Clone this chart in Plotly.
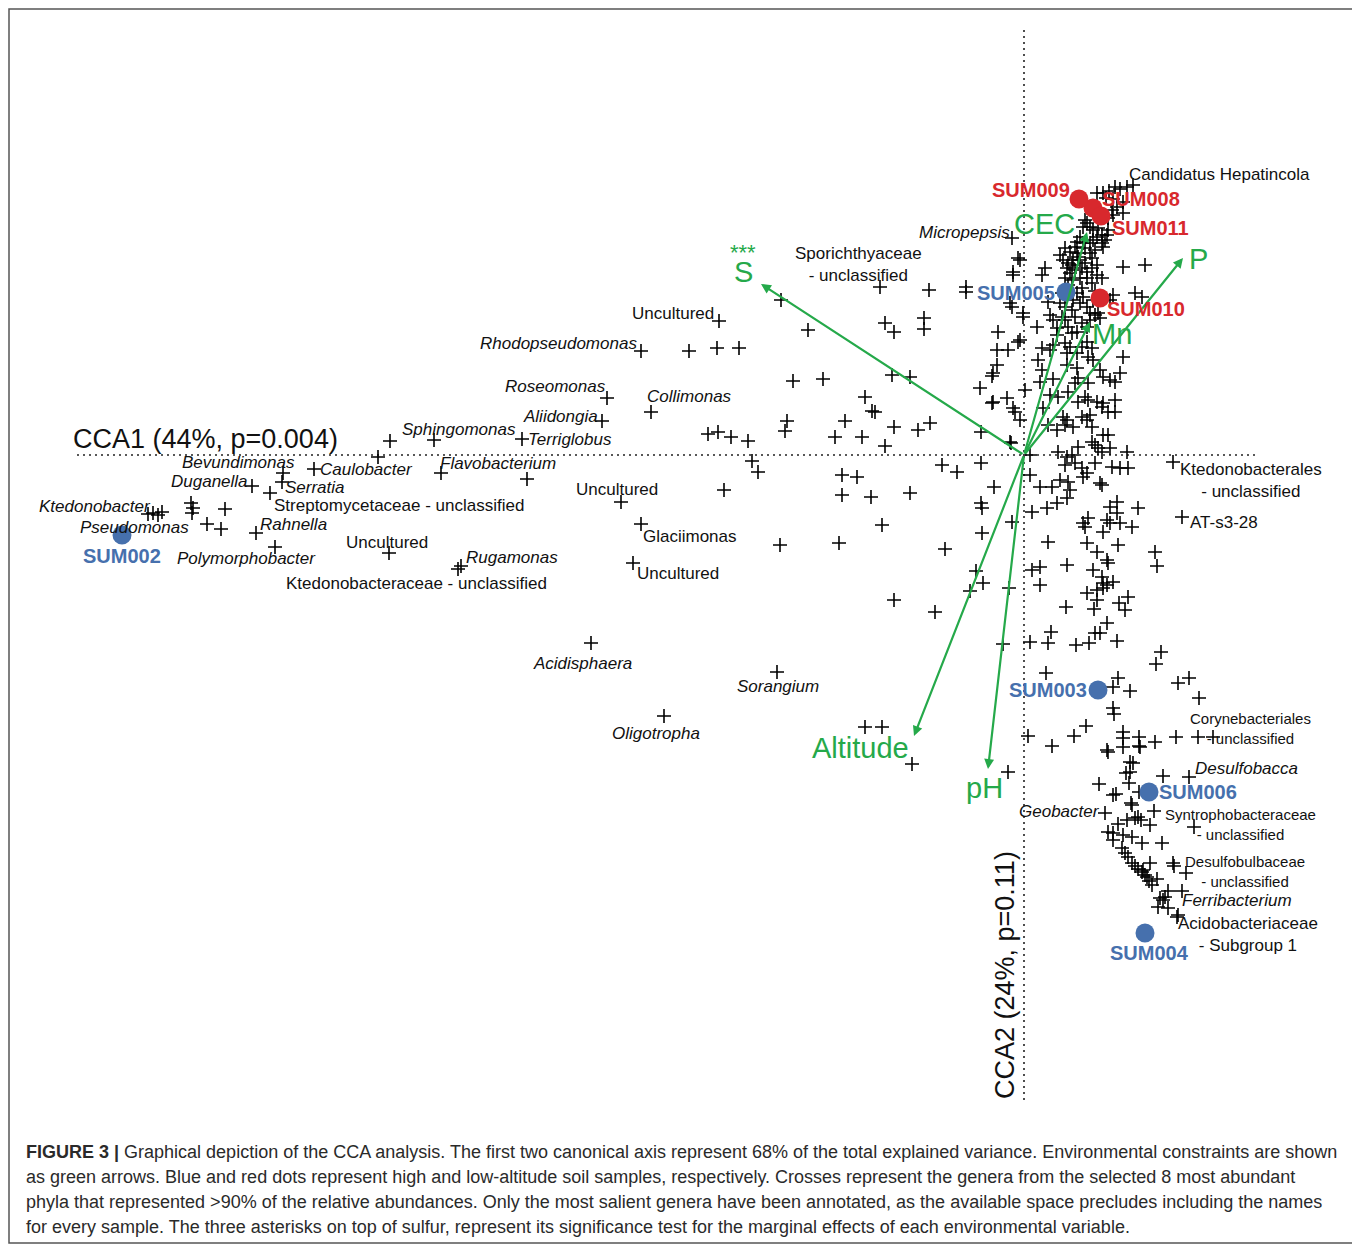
import plotly.graph_objects as go

# ---------------- data (CCA scores, arbitrary scaling units) ----------------
genus_scores = [
    # far-left genera
    (-8.76, -0.59), (-8.71, -0.58), (-8.66, -0.60), (-8.62, -0.57),
    (-8.33, -0.48), (-8.31, -0.53), (-8.32, -0.58), (-7.99, -0.54),
    (-8.17, -0.69), (-8.03, -0.74), (-7.68, -0.78), (-7.49, -0.92),
    (-7.41, -0.18), (-7.42, -0.27), (-7.72, -0.31), (-7.54, -0.38),
    (-7.10, -0.14), (-6.46, -0.02), (-6.34, 0.14), (-5.90, 0.15),
    (-5.83, -0.18), (-4.97, -0.24), (-5.02, 0.16), (-4.22, 0.34),
    (-4.17, 0.57), (-3.73, 0.43), (-6.35, -0.98), (-5.66, -1.14), (-5.63, -1.11),
    (-4.03, -0.47), (-3.83, -0.69), (-3.91, -1.08), (-4.33, -1.88),
    (-2.47, -2.17), (-3.60, -2.61),
    # upper middle
    (-3.83, 1.04), (-3.05, 1.34), (-3.35, 1.04), (-3.07, 1.07), (-2.85, 1.07),
    (-2.16, 1.25), (-2.43, 1.55), (-1.44, 1.68), (-0.95, 1.65),
    (-1.39, 1.32), (-1.30, 1.23), (-1.00, 1.37), (-1.00, 1.26),
    (-2.31, 0.74), (-2.01, 0.76), (-1.32, 0.80), (-1.14, 0.78),
    (-1.59, 0.58), (-1.52, 0.44), (-1.49, 0.43), (-1.79, 0.34),
    (-2.37, 0.34), (-2.39, 0.24), (-1.30, 0.28), (-1.06, 0.25), (-0.94, 0.32),
    (-1.89, 0.18), (-1.62, 0.18), (-1.39, 0.09),
    (-3.16, 0.21), (-3.06, 0.23), (-2.93, 0.18), (-2.76, 0.14),
    # lower middle
    (-2.72, -0.06), (-2.66, -0.17), (-3.00, -0.35),
    (-1.82, -0.20), (-1.67, -0.22), (-1.82, -0.40), (-1.53, -0.42), (-1.14, -0.38),
    (-0.82, -0.10), (-0.67, -0.17), (-0.43, -0.08), (-0.30, -0.32),
    (-0.43, -0.48), (-0.42, -0.53), (-0.12, -0.67), (-0.42, -0.78),
    (-1.42, -0.70), (-2.44, -0.90), (-1.85, -0.88), (-0.79, -0.94),
    (-0.48, -1.16), (-0.41, -1.28), (-0.54, -1.36), (-0.15, -1.33),
    (-1.30, -1.45), (-0.89, -1.57), (-0.13, 0.12),
    (-1.59, -2.72), (-1.42, -2.72), (-1.12, -3.09), (-0.16, -3.17), (-0.21, -1.89),
    # close to CCA2 axis, upper-left
    (-0.27, 1.05), (-0.16, 1.05), (-0.27, 0.90), (-0.31, 0.82), (-0.32, 0.79),
    (-0.44, 0.67), (-0.32, 0.52), (-0.31, 0.53), (-0.17, 0.57), (-0.11, 0.47),
    (-0.09, 0.43), (-0.04, 0.35), (-0.43, 0.23), (-0.14, 0.13), (0.01, 0.65),
    # right of CCA2 axis, near the origin
    (0.14, 0.95), (0.18, 0.85), (0.16, 0.73), (0.29, 0.76), (0.43, 0.90),
    (0.53, 0.87), (0.54, 0.77), (0.64, 0.72), (0.69, 0.95), (0.76, 0.85),
    (0.79, 0.78), (0.86, 0.75), (0.91, 0.73), (0.96, 0.82), (0.99, 0.98),
    (0.51, 0.72), (0.26, 1.05), (0.43, 1.02), (0.53, 1.02), (0.64, 0.98),
    (0.19, 0.47), (0.26, 0.60), (0.34, 0.58), (0.44, 0.63), (0.54, 0.53),
    (0.61, 0.58), (0.64, 0.55), (0.73, 0.53), (0.78, 0.48), (0.79, 0.52),
    (0.84, 0.43), (0.91, 0.55), (0.91, 0.43), (0.39, 0.38), (0.43, 0.35),
    (0.24, 0.30), (0.33, 0.25), (0.41, 0.30), (0.49, 0.28), (0.58, 0.38),
    (0.63, 0.35), (0.68, 0.28), (0.66, 0.40), (0.68, 0.13), (0.71, 0.10),
    (0.74, 0.07), (0.79, 0.20), (0.84, 0.20), (0.86, 0.07), (0.78, 0.03),
    (0.54, 0.08), (0.34, 0.03), (0.43, -0.02), (0.48, 0.00), (0.06, 0.00),
    (1.03, 0.03), (1.49, -0.07),
    (0.41, -0.10), (0.51, -0.08), (0.58, -0.13), (0.63, -0.18), (0.59, -0.22),
    (0.71, -0.08), (0.88, -0.12), (0.96, -0.13), (1.04, -0.13),
    (0.36, -0.25), (0.44, -0.27), (0.46, -0.35), (0.76, -0.28), (0.78, -0.30),
    (0.16, -0.32), (0.28, -0.32), (0.43, -0.43), (0.33, -0.48), (0.23, -0.53),
    (0.08, -0.57), (0.06, -0.20),
    (0.93, -0.47), (0.86, -0.52), (0.93, -0.58), (1.14, -0.53), (0.64, -0.63),
    (0.59, -0.68), (0.61, -0.72), (0.83, -0.65), (0.86, -0.68), (0.96, -0.68),
    (1.08, -0.72), (0.79, -0.77), (1.58, -0.62),
    (0.24, -0.87), (0.63, -0.88), (0.73, -0.97), (0.94, -0.90), (1.31, -0.97),
    (1.33, -1.11), (0.43, -1.10), (0.08, -1.15), (0.16, -1.12), (0.16, -1.30),
    (0.69, -1.15), (0.83, -1.05), (0.84, -1.08), (0.78, -1.22), (0.79, -1.28),
    (0.83, -1.30), (0.89, -1.27), (0.63, -1.38), (0.73, -1.35), (0.79, -1.33),
    (1.04, -1.42), (0.42, -1.52), (0.70, -1.54), (0.73, -1.45), (0.95, -1.48),
    (1.01, -1.55), (0.27, -1.77), (0.24, -1.88), (0.06, -1.87), (0.52, -1.90),
    (0.65, -1.88), (0.71, -1.78), (0.76, -1.78), (0.83, -1.68), (0.93, -1.86),
    # lower-right arm
    (1.37, -1.97), (1.32, -2.09), (0.22, -2.18), (0.89, -2.32), (0.94, -2.23),
    (1.06, -2.36), (1.54, -2.28), (1.65, -2.23), (1.75, -2.43), (0.89, -2.53),
    (0.90, -2.59), (0.04, -2.81), (0.28, -2.91), (0.50, -2.81), (0.62, -2.71),
    (0.83, -2.95), (0.84, -2.97), (0.99, -2.77), (0.99, -2.83), (0.99, -2.92),
    (1.15, -2.82), (1.15, -2.91), (1.16, -2.92), (1.31, -2.87), (1.52, -2.82),
    (1.74, -2.82), (1.89, -2.82), (1.06, -3.07), (1.09, -3.08), (1.02, -3.18),
    (1.06, -3.17), (1.05, -3.28), (1.39, -3.21), (1.65, -3.22), (0.75, -3.29),
    (0.89, -3.40), (0.92, -3.39), (1.07, -3.48), (1.08, -3.50), (1.15, -3.37),
    (1.30, -3.56), (0.81, -3.58), (1.03, -3.65), (1.11, -3.63), (1.14, -3.62),
    (1.17, -3.65), (1.26, -3.70), (1.70, -3.72), (0.84, -3.77), (0.89, -3.78),
    (0.89, -3.85), (0.94, -3.69), (0.99, -3.80), (1.08, -3.82), (1.18, -3.88),
    (1.38, -3.88), (0.98, -3.93), (1.01, -3.98), (1.04, -4.02), (1.08, -4.08),
    (1.11, -4.11), (1.14, -4.14), (1.18, -4.17), (1.21, -4.20), (1.23, -4.22),
    (1.25, -4.26), (1.28, -4.30), (1.19, -4.15), (1.26, -4.08), (1.33, -4.24),
    (1.49, -4.08), (1.50, -4.11), (1.62, -4.18), (1.36, -4.43), (1.39, -4.45),
    (1.41, -4.42), (1.44, -4.36), (1.58, -4.36), (1.34, -4.52), (1.44, -4.53),
    (1.53, -4.62), (1.54, -4.60),
    # upper-right dense cluster
    (1.09, 2.70), (1.03, 2.68), (0.96, 2.66), (0.91, 2.68), (0.85, 2.64),
    (0.79, 2.62), (0.73, 2.62), (0.82, 2.57), (0.89, 2.56), (0.99, 2.53),
    (0.93, 2.48), (0.88, 2.45), (0.99, 2.42), (0.89, 2.40), (0.84, 2.37),
    (0.61, 2.35), (0.63, 2.32), (0.59, 2.28), (0.66, 2.28), (0.69, 2.25),
    (0.74, 2.27), (0.84, 2.25), (0.83, 2.20), (0.78, 2.20), (0.81, 2.15),
    (0.78, 2.12), (0.79, 2.08), (0.73, 2.18), (0.69, 2.15), (0.66, 2.12),
    (0.56, 2.18), (0.53, 2.13), (0.51, 2.08), (0.59, 2.12), (0.61, 2.07),
    (0.41, 2.07), (0.46, 2.03), (0.53, 2.02), (0.39, 1.95), (0.44, 1.92),
    (0.49, 1.95), (0.56, 1.95), (0.61, 1.92), (0.68, 1.97), (0.43, 1.87),
    (0.46, 1.82), (0.51, 1.85), (0.58, 1.87), (0.63, 1.83), (0.68, 1.87),
    (0.73, 1.90), (0.41, 1.77), (0.48, 1.75), (0.56, 1.77), (0.63, 1.77),
    (0.68, 1.72), (0.78, 1.77), (0.73, 1.80), (0.21, 1.87), (0.18, 1.80),
    (0.99, 1.88), (1.21, 1.90), (-0.04, 1.95), (-0.06, 1.97), (-0.11, 1.83),
    (-0.11, 1.80), (-0.58, 1.68), (-0.58, 1.63), (-0.14, 1.52), (-0.12, 1.48),
    (-0.26, 1.23), (-0.06, 1.13), (-0.04, 1.15), (-0.01, 1.42), (-0.01, 1.38),
    (0.13, 1.28), (0.24, 1.53), (0.26, 1.40), (0.29, 1.35), (-0.12, 2.17),
    (0.89, 1.60), (0.86, 1.55), (1.11, 1.62), (1.18, 1.58), (0.18, 1.07),
    (0.53, 1.62), (0.58, 1.67), (0.59, 1.58), (0.49, 1.55), (0.56, 1.52),
    (0.63, 1.48), (0.66, 1.42), (0.71, 1.40), (0.76, 1.37), (0.74, 1.42),
    (0.41, 1.48), (0.38, 1.38), (0.41, 1.35), (0.48, 1.45), (0.51, 1.38),
    (0.58, 1.32), (0.63, 1.28), (0.66, 1.35), (0.44, 1.28), (0.48, 1.22),
    (0.53, 1.23), (0.33, 1.27), (0.33, 1.20), (0.41, 1.12), (0.46, 1.08),
    (0.58, 1.08), (0.63, 1.13), (0.68, 1.07), (0.29, 1.10),
    (0.36, 2.00), (0.48, 1.90), (0.54, 1.98), (0.66, 2.02), (0.71, 2.05),
    (0.38, 1.62), (0.44, 1.70), (0.71, 1.64), (0.36, 1.52), (0.69, 1.55),
]

sample_names = ["SUM002", "SUM003", "SUM004", "SUM005", "SUM006",
                "SUM008", "SUM009", "SUM010", "SUM011"]
sample_x = [-9.02, 0.74, 1.21, 0.42, 1.25, 0.69, 0.55, 0.76, 0.77]
sample_y = [-0.80, -2.35, -4.78, 1.63, -3.37, 2.47, 2.56, 1.57, 2.39]
sample_altitude = ["high", "high", "high", "high", "high",
                   "low", "low", "low", "low"]
sample_label_x = [-9.02, 0.24, 1.25, -0.08, 1.74, 1.17, 0.07, 1.22, 1.26]
sample_label_y = [-1.01, -2.35, -4.98, 1.62, -3.37, 2.56, 2.65, 1.46, 2.27]

env_names = ["S", "CEC", "P", "Mn", "Altitude", "pH"]
env_x = [-2.63, 0.63, 1.59, 0.66, -1.10, -0.36]
env_y = [1.71, 2.23, 1.97, 1.33, -2.81, -3.14]
env_label_x = [-2.81, 0.20, 1.74, 0.88, -1.64, -0.40]
env_label_y = [1.83, 2.31, 1.96, 1.21, -2.93, -3.33]
env_signif = ["***", "", "", "", "", ""]

taxa_names = [
    "Candidatus Hepatincola", "Micropepsis", "Sporichthyaceae<br>- unclassified",
    "Uncultured", "Rhodopseudomonas", "Roseomonas", "Collimonas", "Aliidongia",
    "Sphingomonas", "Terriglobus", "Bevundimonas", "Caulobacter", "Flavobacterium",
    "Duganella", "Serratia", "Streptomycetaceae - unclassified", "Ktedonobacter",
    "Pseudomonas", "Rahnella", "Polymorphobacter", "Uncultured", "Rugamonas",
    "Ktedonobacteraceae - unclassified", "Uncultured", "Glaciimonas", "Uncultured",
    "Acidisphaera", "Sorangium", "Oligotropha",
    "Ktedonobacterales<br>- unclassified", "AT-s3-28",
    "Corynebacteriales<br>- unclassified", "Desulfobacca", "Geobacter",
    "Syntrophobacteraceae<br>- unclassified", "Desulfobulbaceae<br>- unclassified",
    "Ferribacterium", "Acidobacteriaceae<br>- Subgroup 1",
]
taxa_label_x = [
    1.95, -0.60, -1.66, -3.51, -4.66, -4.69, -3.35, -4.64, -5.65, -4.54,
    -7.86, -6.58, -5.26, -8.15, -7.09, -6.25, -9.29, -8.90, -7.31, -7.78,
    -6.37, -5.12, -6.08, -4.07, -3.34, -3.46, -4.42, -2.46, -3.68,
    2.27, 2.00, 2.26, 2.22, 0.35, 2.16, 2.21, 2.13, 2.24,
]
taxa_label_y = [
    2.81, 2.23, 1.91, 1.42, 1.12, 0.69, 0.59, 0.39, 0.26, 0.16,
    -0.07, -0.14, -0.08, -0.26, -0.32, -0.50, -0.51, -0.72, -0.69, -1.03,
    -0.87, -1.02, -1.28, -0.34, -0.81, -1.18, -2.08, -2.31, -2.78,
    -0.25, -0.67, -2.73, -3.13, -3.56, -3.69, -4.16, -4.45, -4.79,
]
genera_italic = {
    "Micropepsis", "Rhodopseudomonas", "Roseomonas", "Collimonas", "Aliidongia",
    "Sphingomonas", "Terriglobus", "Bevundimonas", "Caulobacter", "Flavobacterium",
    "Duganella", "Serratia", "Ktedonobacter", "Pseudomonas", "Rahnella",
    "Polymorphobacter", "Rugamonas", "Acidisphaera", "Sorangium", "Oligotropha",
    "Desulfobacca", "Geobacter", "Ferribacterium",
}
small_labels = {"Corynebacteriales<br>- unclassified",
                "Syntrophobacteraceae<br>- unclassified",
                "Desulfobulbaceae<br>- unclassified"}

axis1_title = "CCA1 (44%, p=0.004)"
axis2_title = "CCA2 (24%, p=0.11)"
axis1_title_pos = (-8.19, 0.16)
axis2_title_pos = (-0.19, -5.20)
axis1_extent = (-9.47, 2.34)
axis2_extent = (-6.45, 4.25)

caption_lines = [
    "<b>FIGURE 3 |</b> Graphical depiction of the CCA analysis. The first two canonical axis represent 68% of the total explained variance. Environmental constraints are shown",
    "as green arrows. Blue and red dots represent high and low-altitude soil samples, respectively. Crosses represent the genera from the selected 8 most abundant",
    "phyla that represented &gt;90% of the relative abundances. Only the most salient genera have been annotated, as the available space precludes including the names",
    "for every sample. The three asterisks on top of sulfur, represent its significance test for the marginal effects of each environmental variable.",
]

# ---------------- styling ----------------
# the page body has an 8 px margin, so the figure is 8 px smaller than the window
OFF = 8
W, H = 1360 - OFF, 1244 - OFF
GREEN = "#25a94a"
RED = "#d8282d"
BLUE = "#4670ad"
FONT = "Liberation Sans, Arial, sans-serif"

fig = go.Figure()

# dotted CCA axes
fig.add_trace(go.Scatter(x=list(axis1_extent), y=[0, 0], mode="lines",
                         line=dict(color="#222", width=1.6, dash="2px,4px"),
                         hoverinfo="skip", showlegend=False))
fig.add_trace(go.Scatter(x=[0, 0], y=list(axis2_extent), mode="lines",
                         line=dict(color="#222", width=1.6, dash="2px,4px"),
                         hoverinfo="skip", showlegend=False))

# genera crosses
gx = [p[0] for p in genus_scores]
gy = [p[1] for p in genus_scores]
fig.add_trace(go.Scatter(x=gx, y=gy, mode="markers",
                         marker=dict(symbol="cross-thin-open", size=10, color="black",
                                     line=dict(color="black", width=1.6)),
                         showlegend=False))

# environmental arrows
for ex, ey in zip(env_x, env_y):
    fig.add_annotation(x=ex, y=ey, ax=0, ay=0, xref="x", yref="y",
                       axref="x", ayref="y", text="", showarrow=True,
                       arrowhead=2, arrowsize=0.9, arrowwidth=2.2,
                       arrowcolor=GREEN, standoff=0)

# samples
for alt, col in (("high", BLUE), ("low", RED)):
    idx = [i for i, a in enumerate(sample_altitude) if a == alt]
    fig.add_trace(go.Scatter(x=[sample_x[i] for i in idx],
                             y=[sample_y[i] for i in idx], mode="markers",
                             marker=dict(size=19, color=col), showlegend=False))
for i, n in enumerate(sample_names):
    col = BLUE if sample_altitude[i] == "high" else RED
    fig.add_annotation(x=sample_label_x[i], y=sample_label_y[i], text=f"<b>{n}</b>",
                       showarrow=False, font=dict(family=FONT, size=20, color=col),
                       xanchor="center", yanchor="middle")

# environment labels
for n, lx, ly, sig in zip(env_names, env_label_x, env_label_y, env_signif):
    fig.add_annotation(x=lx, y=ly, text=n, showarrow=False,
                       font=dict(family=FONT, size=29, color=GREEN),
                       xanchor="center", yanchor="middle")
    if sig:
        fig.add_annotation(x=lx, y=ly + 0.20, text=sig, showarrow=False,
                           font=dict(family=FONT, size=22, color=GREEN),
                           xanchor="center", yanchor="middle")

# taxa labels
for n, lx, ly in zip(taxa_names, taxa_label_x, taxa_label_y):
    txt = f"<i>{n}</i>" if n in genera_italic else n
    sz = 15 if n in small_labels else 17
    fig.add_annotation(x=lx, y=ly, text=txt, showarrow=False,
                       font=dict(family=FONT, size=sz, color="#111"),
                       xanchor="center", yanchor="middle", align="center")

# axis titles
fig.add_annotation(x=axis1_title_pos[0], y=axis1_title_pos[1], text=axis1_title,
                   showarrow=False, font=dict(family=FONT, size=27, color="#111"),
                   xanchor="center", yanchor="middle")
fig.add_annotation(x=axis2_title_pos[0], y=axis2_title_pos[1], text=axis2_title,
                   showarrow=False, textangle=-90,
                   font=dict(family=FONT, size=27, color="#111"),
                   xanchor="center", yanchor="middle")

# caption
for k, line in enumerate(caption_lines):
    fig.add_annotation(x=(24 - OFF) / W, y=1 - (1152 - OFF + 25 * k) / H,
                       xref="paper", yref="paper",
                       text=line, showarrow=False, xanchor="left", yanchor="middle",
                       font=dict(family=FONT, size=18, color="#2a2a2a"))

# frame
fig.add_shape(type="rect", xref="paper", yref="paper",
              x0=1 / W, x1=(1354.5 - OFF) / W, y0=1 - (1243 - OFF) / H, y1=1 - 1 / H,
              line=dict(color="#555", width=1.5))

# scale: 100 px per unit, origin at window pixel (1024, 455)
ox, oy = 1024 - OFF, 455 - OFF
fig.update_xaxes(range=[-ox / 100, (W - ox) / 100], visible=False, fixedrange=True)
fig.update_yaxes(range=[-(H - oy) / 100, oy / 100], visible=False, fixedrange=True)
fig.update_layout(width=W, height=H, margin=dict(l=0, r=0, t=0, b=0),
                  plot_bgcolor="white", paper_bgcolor="white",
                  font=dict(family=FONT))

fig.write_html("out.html")
